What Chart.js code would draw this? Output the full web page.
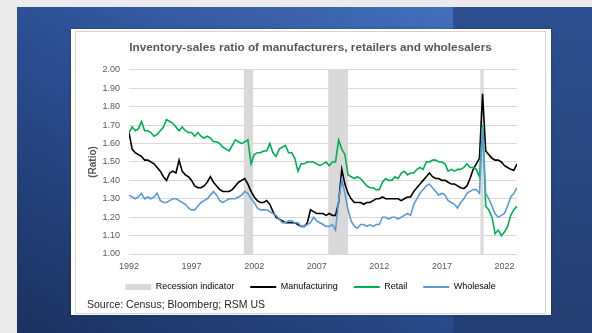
<!DOCTYPE html>
<html>
<head>
<meta charset="utf-8">
<script src="https://cdn.jsdelivr.net/npm/chart.js@4/dist/chart.umd.min.js"></script>
<style>
  body { margin: 0; width: 592px; height: 333px; overflow: hidden; background: #ebebeb; position: relative; font-family: 'Liberation Sans', Arial, sans-serif; }
  .bg { position: absolute; left: 17px; top: 7px; width: 575px; height: 326px;
        background: linear-gradient(to top right, #1b3160 0%, #2b4d90 45%, #4a78c8 100%); }
  .bg-right { position: absolute; left: 453px; top: 7px; width: 139px; height: 326px;
        background: linear-gradient(#2d4f8f, #233e72); }
  .card { position: absolute; left: 71px; top: 29px; width: 480px; height: 286px; background: #fff;
        box-shadow: 0 0 3px rgba(0,0,0,0.25); }
  .frame { position: absolute; left: 75px; top: 31px; width: 469px; height: 281px; border: 1px solid #d4d4d4; }
  #chart { position: absolute; left: 77px; top: 32px; }
  .source { position: absolute; left: 87px; top: 298px; font-size: 10.5px; line-height: 12px; color: #262626; white-space: nowrap; }
</style>
</head>
<body>
<div class="bg"></div>
<div class="bg-right"></div>
<div class="card"></div>
<div class="frame"></div>
<canvas id="chart" width="467" height="280"></canvas>
<div class="source">Source: Census; Bloomberg; RSM US</div>
<script>
Chart.defaults.font.family = "'Liberation Sans', Arial, sans-serif";
Chart.defaults.color = "#595959";

// quarterly points, Q1 1992 .. Q1 2023
const startYear = 1992;
const quarterCount = 125;
let quarters = [];
for (let i = 0; i < quarterCount; i++) quarters.push(startYear + i / 4);

const yearTicks = [1992, 1997, 2002, 2007, 2012, 2017, 2022];

// recession periods (decimal years)
const recessionStart = [2001.17, 2007.92, 2020.08];
const recessionEnd = [2001.92, 2009.5, 2020.33];

const manufacturing = [
  1.66, 1.57, 1.55, 1.54,  // 1992
  1.53, 1.51, 1.51, 1.50,
  1.49, 1.47, 1.45, 1.42,
  1.40, 1.44, 1.45, 1.44,  // 1995
  1.51, 1.45, 1.43, 1.42,
  1.40, 1.37, 1.36, 1.36,
  1.37, 1.39, 1.42, 1.39,
  1.37, 1.35, 1.34, 1.34,
  1.34, 1.35, 1.37, 1.39,  // 2000
  1.40, 1.41, 1.38, 1.34,
  1.31, 1.29, 1.28, 1.28,
  1.29, 1.27, 1.23, 1.20,
  1.19, 1.18, 1.17, 1.17,
  1.17, 1.17, 1.16, 1.15,  // 2005
  1.15, 1.17, 1.24, 1.23,
  1.22, 1.22, 1.22, 1.21,
  1.22, 1.21, 1.21, 1.28,
  1.46, 1.38, 1.33, 1.30,
  1.28, 1.28, 1.28, 1.27,  // 2010
  1.28, 1.28, 1.29, 1.30,
  1.30, 1.31, 1.30, 1.30,
  1.30, 1.30, 1.30, 1.29,
  1.30, 1.31, 1.31, 1.34,
  1.36, 1.38, 1.40, 1.42,  // 2015
  1.44, 1.42, 1.41, 1.41,
  1.40, 1.40, 1.39, 1.38,
  1.38, 1.37, 1.36, 1.355,
  1.37, 1.41, 1.46, 1.49,
  1.52, 1.87, 1.56, 1.54,  // 2020
  1.52, 1.51, 1.51, 1.50,
  1.48, 1.47, 1.46, 1.455,
  1.49                     // 2023
];

const retail = [
  1.66, 1.69, 1.67, 1.68,  // 1992
  1.72, 1.67, 1.67, 1.66,
  1.64, 1.65, 1.67, 1.69,
  1.73, 1.72, 1.71, 1.69,  // 1995
  1.67, 1.69, 1.67, 1.66,
  1.66, 1.64, 1.66, 1.64,
  1.63, 1.64, 1.63, 1.61,
  1.61, 1.60, 1.58, 1.57,
  1.56, 1.59, 1.62, 1.61,  // 2000
  1.60, 1.61, 1.62, 1.49,
  1.54, 1.55, 1.55, 1.56,
  1.56, 1.60, 1.55, 1.53,
  1.57, 1.58, 1.59, 1.55,
  1.55, 1.52, 1.45, 1.49,  // 2005
  1.49, 1.50, 1.50, 1.50,
  1.49, 1.48, 1.49, 1.50,
  1.48, 1.50, 1.50, 1.62,
  1.57, 1.54, 1.43, 1.42,
  1.41, 1.42, 1.41, 1.39,  // 2010
  1.37, 1.36, 1.36, 1.35,
  1.35, 1.39, 1.41, 1.40,
  1.40, 1.42, 1.41, 1.44,
  1.45, 1.43, 1.44, 1.44,
  1.46, 1.47, 1.46, 1.50,  // 2015
  1.50, 1.51, 1.51, 1.50,
  1.50, 1.49, 1.45, 1.46,
  1.45, 1.46, 1.46, 1.47,
  1.49, 1.47, 1.47, 1.46,
  1.42, 1.70, 1.26, 1.24,  // 2020
  1.20, 1.11, 1.13, 1.10,
  1.12, 1.15, 1.21, 1.24,
  1.26                     // 2023
];

const wholesale = [
  1.32, 1.31, 1.30, 1.31,  // 1992
  1.33, 1.30, 1.31, 1.30,
  1.31, 1.33, 1.29, 1.28,
  1.28, 1.29, 1.30, 1.30,  // 1995
  1.29, 1.28, 1.27, 1.25,
  1.24, 1.24, 1.26, 1.28,
  1.29, 1.30, 1.32, 1.34,
  1.32, 1.29, 1.28, 1.29,
  1.30, 1.30, 1.30, 1.31,  // 2000
  1.32, 1.34, 1.33, 1.30,
  1.28, 1.25, 1.24, 1.24,
  1.24, 1.23, 1.22, 1.21,
  1.19, 1.17, 1.17, 1.18,
  1.18, 1.17, 1.17, 1.15,  // 2005
  1.15, 1.16, 1.17, 1.20,
  1.18, 1.17, 1.16, 1.15,
  1.15, 1.16, 1.13, 1.29,
  1.40, 1.33, 1.24, 1.18,
  1.15, 1.14, 1.16, 1.16,  // 2010
  1.15, 1.16, 1.15, 1.16,
  1.16, 1.20, 1.20, 1.19,
  1.20, 1.20, 1.19, 1.20,
  1.21, 1.22, 1.21, 1.27,
  1.30, 1.33, 1.35, 1.37,  // 2015
  1.38, 1.36, 1.34, 1.32,
  1.33, 1.32, 1.29, 1.28,
  1.27, 1.25, 1.28, 1.30,
  1.33, 1.34, 1.35, 1.35,
  1.33, 1.69, 1.33, 1.30,  // 2020
  1.26, 1.22, 1.20, 1.21,
  1.22, 1.26, 1.31, 1.33,
  1.36                     // 2023
];

const recessionColor = "#d9d9d9";
const seriesNames = ["Manufacturing", "Retail", "Wholesale"];
const seriesColors = ["#000000", "#00b050", "#5b9bd5"];
const seriesValues = [manufacturing, retail, wholesale];

function points(values) {
  return values.map((v, i) => ({ x: quarters[i], y: v }));
}

// grey recession bands, behind the lines
const recessionBands = {
  id: "recessionBands",
  beforeDatasetsDraw(chart) {
    const ctx = chart.ctx;
    const x = chart.scales.x;
    const area = chart.chartArea;
    ctx.save();
    ctx.fillStyle = recessionColor;
    for (let i = 0; i < recessionStart.length; i++) {
      let x0 = x.getPixelForValue(recessionStart[i]);
      let x1 = x.getPixelForValue(recessionEnd[i]);
      ctx.fillRect(x0, area.top, x1 - x0, area.bottom - area.top);
    }
    ctx.restore();
  }
};

// pull the legend row up a little, closer to the axis labels
const legendNudge = {
  id: "legendNudge",
  afterLayout(chart) {
    chart.legend.top -= 5.5;
    chart.legend.bottom -= 5.5;
  }
};

let chartId = document.getElementById("chart");

let InventoryChart = new Chart(chartId, {
  type: "line",
  data: {
    datasets: seriesNames.map((name, i) => ({
      label: name,
      data: points(seriesValues[i]),
      borderColor: seriesColors[i],
      backgroundColor: seriesColors[i],
      borderWidth: 1.6,
      pointRadius: 0,
      tension: 0,
      order: 2 - i
    }))
  },
  options: {
    responsive: false,
    animation: false,
    layout: { padding: { left: 10, right: 10, top: 0, bottom: 5 } },
    scales: {
      x: {
        type: "linear",
        min: 1992,
        max: 2023,
        grid: { display: false, drawTicks: false },
        border: { display: false },
        ticks: {
          autoSkip: false,
          maxRotation: 0,
          padding: 7,
          font: { size: 9 },
          color: "#595959",
          callback: (v) => String(v)
        },
        afterBuildTicks: (scale) => {
          scale.ticks = yearTicks.map((v) => ({ value: v }));
        },
        afterFit: (scale) => { scale.height = 18; }
      },
      y: {
        min: 1,
        max: 2,
        grid: { color: "#d9d9d9", drawTicks: false },
        border: { display: false },
        ticks: {
          stepSize: 0.1,
          padding: 9,
          font: { size: 9 },
          color: "#595959",
          callback: (v) => v.toFixed(2)
        },
        title: {
          display: true,
          text: "(Ratio)",
          color: "#595959",
          font: { size: 10, weight: "bold" },
          padding: { top: 0, bottom: 3 }
        },
        afterFit: (scale) => { scale.width = 42; }
      },
      yRight: {
        position: "right",
        display: true,
        grid: { display: false, drawTicks: false },
        border: { display: false },
        ticks: { display: false },
        afterFit: (scale) => { scale.width = 17; }
      }
    },
    plugins: {
      title: {
        display: true,
        text: "Inventory-sales ratio of manufacturers, retailers and wholesalers",
        color: "#595959",
        font: { size: 11.8, weight: "bold", lineHeight: 1.2 },
        padding: { top: 8.5, bottom: 15.3 }
      },
      legend: {
        position: "bottom",
        labels: {
          usePointStyle: true,
          pointStyleWidth: 26,
          boxHeight: 6,
          padding: 16,
          color: "#595959",
          font: { size: 9 },
          generateLabels: () => {
            let items = [{
              text: "Recession indicator",
              fillStyle: recessionColor,
              strokeStyle: recessionColor,
              lineWidth: 0,
              pointStyle: "rect",
              hidden: false
            }];
            seriesNames.forEach((name, i) => {
              items.push({
                text: name,
                fillStyle: seriesColors[i],
                strokeStyle: seriesColors[i],
                lineWidth: 2,
                pointStyle: "line",
                hidden: false,
                datasetIndex: i
              });
            });
            return items;
          }
        }
      },
      tooltip: { enabled: false }
    }
  },
  plugins: [recessionBands, legendNudge]
});
</script>
</body>
</html>
